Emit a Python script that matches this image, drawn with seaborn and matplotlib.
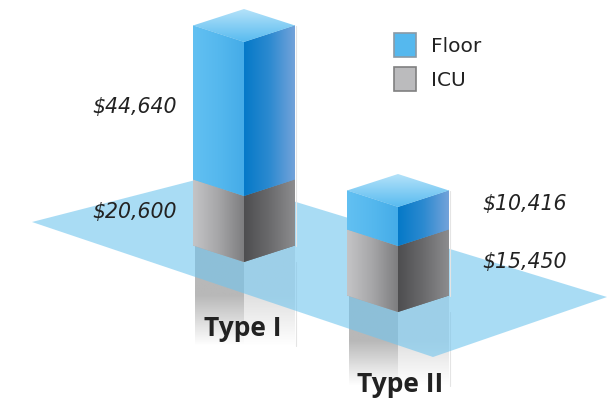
import numpy as np
import pandas as pd
import matplotlib
matplotlib.use("Agg")
import matplotlib.pyplot as plt
from matplotlib.patches import Patch, Polygon
from matplotlib.transforms import Affine2D
import seaborn as sns

# ---- data ----
categories = ["Type I", "Type II"]
floor_costs = [44640, 10416]
icu_costs = [20600, 15450]
# the drawing is not to scale: drawn block heights, in picture units
floor_heights = [154, 39]
icu_heights = [66, 66]
series_names = ["Floor", "ICU"]

# ---- layout ----
W, H = 615, 401
bar_centers = [244, 398]
bar_base_front = [262, 312]   # picture y of the front-bottom corner
half_w = 51
skew = 16.5
slope = skew / half_w
plane_px = [(32, 222), (211, 176), (607, 297), (433, 357)]
reflect_end = [346, 386]
cost_label_pos = [[(135, 107), (135, 212)], [(525, 204), (525, 262)]]
cat_label_pos = [(243, 328), (400, 385)]

floor_left = ["#62C0F2", "#55B8EE", "#45ACE8"]
floor_right = ["#0579C8", "#2C8AD0", "#72A2DA"]
icu_left = ["#C4C4C6", "#A6A6A8", "#7E7E80"]
icu_right = ["#4E4E50", "#6A6A6C", "#8C8C8E"]
top_colors = ["#B4E2F9", "#58BBF0"]

sns.set_theme(style="white")
fig = plt.figure(figsize=(W / 100, H / 100), dpi=100)
ax = fig.add_axes([0, 0, 1, 1])


def Y(py):
    return H - py


def bar_face(x_left, bottom, height, colors, shear_sign, z):
    """One block face: a seaborn bar, sheared into the isometric view, with gradient fill."""
    df = pd.DataFrame({"x": [x_left + half_w / 2], "h": [height]})
    sns.barplot(data=df, x="x", y="h", native_scale=True, width=half_w, gap=0,
                bottom=bottom, color=colors[1], linewidth=0, errorbar=None,
                ax=ax, zorder=z)
    patch = ax.patches[-1]
    anchor = x_left if shear_sign < 0 else x_left + half_w
    shear = Affine2D.from_values(1, shear_sign * slope, 0, 1, 0, -shear_sign * slope * anchor)
    patch.set_transform(shear + ax.transData)
    grad = np.array(sns.blend_palette(colors, n_colors=64))[None, :, :]
    im = ax.imshow(grad, extent=(x_left, x_left + half_w, 0, H), aspect="auto",
                   interpolation="bilinear", zorder=z + 0.1)
    im.set_clip_path(patch.get_path(), patch.get_transform())
    return patch


def reflection(x_left, top_py, end_py, start_color):
    df = pd.DataFrame({"x": [x_left + half_w / 2], "h": [top_py - end_py]})
    grad = np.array(sns.blend_palette([start_color, start_color, "#FFFFFF"], n_colors=64))[:, None, :]
    sns.barplot(data=df, x="x", y="h", native_scale=True, width=half_w, gap=0,
                bottom=Y(top_py), color="white", linewidth=0, errorbar=None, ax=ax, zorder=1)
    patch = ax.patches[-1]
    im = ax.imshow(grad, extent=(x_left, x_left + half_w, Y(end_py), Y(top_py)), aspect="auto",
                   interpolation="bilinear", zorder=1.1)
    im.set_clip_path(patch.get_path(), patch.get_transform())


# reflections beneath the plane
for cx, base, end in zip(bar_centers, bar_base_front, reflect_end):
    reflection(cx - half_w + 2, base - skew, end, "#B8B8B8")
    reflection(cx, base - skew, end, "#E0E0E0")
    ax.plot([cx + half_w + 1] * 2, [Y(base), Y(end)], color="#E4E4E4", lw=0.8, zorder=1.2)

# plane
ax.add_patch(Polygon([(x, Y(y)) for x, y in plane_px], closed=True,
                     facecolor="#71C5EE", alpha=0.6, edgecolor="none", zorder=2))

# stacked blocks
for cx, base, fh, ih in zip(bar_centers, bar_base_front, floor_heights, icu_heights):
    side_bottom = Y(base - skew)
    bar_face(cx - half_w, side_bottom, ih, icu_left, -1, 3)
    bar_face(cx, side_bottom, ih, icu_right, 1, 3)
    bar_face(cx - half_w, side_bottom + ih, fh, floor_left, -1, 3)
    bar_face(cx, side_bottom + ih, fh, floor_right, 1, 3)
    top_y = side_bottom + ih + fh
    cap = Polygon([(cx - half_w, top_y), (cx, top_y - skew), (cx + half_w, top_y),
                   (cx, top_y + skew)], closed=True, facecolor="none", edgecolor="none", zorder=3)
    ax.add_patch(cap)
    grad = np.array(sns.blend_palette(top_colors, n_colors=64))[:, None, :]
    im = ax.imshow(grad, extent=(cx - half_w, cx + half_w, top_y - skew, top_y + skew),
                   aspect="auto", interpolation="bilinear", zorder=3.1)
    im.set_clip_path(cap)
    ax.plot([cx + half_w + 1] * 2, [side_bottom, top_y], color="#E4E4E4", lw=0.8, zorder=3)

# cost labels
for i in range(len(categories)):
    floor_pos, icu_pos = cost_label_pos[i]
    for value, (x, y) in ((floor_costs[i], floor_pos), (icu_costs[i], icu_pos)):
        ax.text(x, Y(y), f"${value:,}", ha="center", va="center", style="italic",
                family="DejaVu Sans", fontsize=14.8, color="#222222", zorder=5)

# category labels
for name, (x, y) in zip(categories, cat_label_pos):
    ax.text(x, Y(y), name, ha="center", va="center", family="Open Sans",
            fontweight="bold", fontsize=19, color="#222222", zorder=5)

# legend
handles = [Patch(facecolor="#55B8EE", edgecolor="#8A9AA6", linewidth=1.2),
           Patch(facecolor="#BBBBBD", edgecolor="#808080", linewidth=1.2)]
ax.legend(handles, series_names, loc="upper left", bbox_to_anchor=(378 / W, 1 - 17 / H),
          bbox_transform=ax.transAxes, frameon=False, handlelength=1.1, handleheight=1.45,
          handletextpad=0.72, labelspacing=0.5, borderpad=0.3,
          prop={"family": "DejaVu Sans", "size": 14.5}, labelcolor="#222222")

ax.set_xlim(0, W)
ax.set_ylim(0, H)
ax.set_axis_off()
fig.savefig("out.png", dpi=100)
